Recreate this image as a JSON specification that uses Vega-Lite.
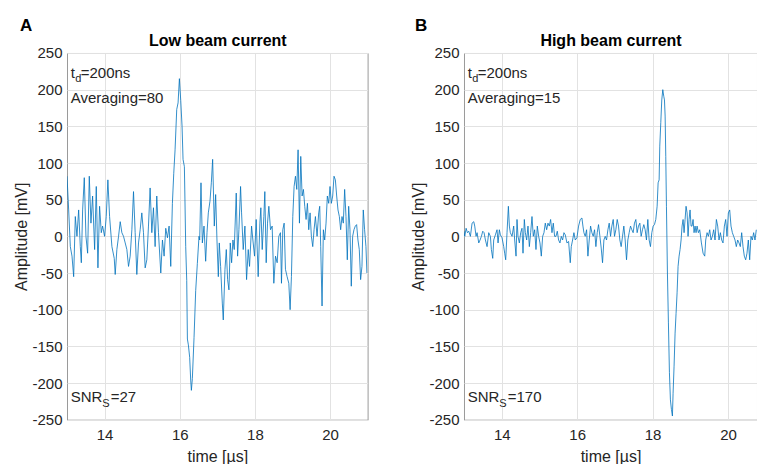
{
  "$schema": "https://vega.github.io/schema/vega-lite/v6.json",
  "padding": {"left": 13, "top": 16, "right": 0, "bottom": 0},
  "spacing": 41,
  "background": "white",
  "config": {
    "font": "Liberation Sans",
    "view": {"stroke": "#9a9a9a", "strokeWidth": 1},
    "axis": {
      "labelFont": "Liberation Sans",
      "labelFontSize": 15,
      "labelColor": "#262626",
      "titleFont": "Liberation Sans",
      "titleFontSize": 16,
      "titleFontWeight": "normal",
      "titleColor": "#262626",
      "gridColor": "#e2e2e2",
      "gridWidth": 1,
      "tickSize": 0,
      "domain": false
    },
    "title": {"fontSize": 17, "fontWeight": "bold", "anchor": "start", "frame": "bounds", "color": "#000000", "font": "Liberation Sans"}
  },
  "datasets": {
    "a": [
      {"t":13.000,"v":82},{"t":13.044,"v":36},{"t":13.088,"v":-14},{"t":13.133,"v":-27},{"t":13.177,"v":-55},{"t":13.221,"v":27},{"t":13.265,"v":0},{"t":13.310,"v":36},{"t":13.354,"v":-14},{"t":13.381,"v":-36},{"t":13.416,"v":36},{"t":13.460,"v":80},{"t":13.504,"v":0},{"t":13.549,"v":-23},{"t":13.593,"v":82},{"t":13.637,"v":18},{"t":13.681,"v":55},{"t":13.735,"v":-18},{"t":13.779,"v":68},{"t":13.823,"v":-43},{"t":13.867,"v":41},{"t":13.912,"v":5},{"t":13.947,"v":14},{"t":14.000,"v":0},{"t":14.044,"v":27},{"t":14.088,"v":77},{"t":14.133,"v":27},{"t":14.195,"v":-14},{"t":14.257,"v":-30},{"t":14.283,"v":-52},{"t":14.327,"v":-18},{"t":14.372,"v":0},{"t":14.416,"v":20},{"t":14.460,"v":5},{"t":14.504,"v":0},{"t":14.549,"v":-9},{"t":14.593,"v":-18},{"t":14.637,"v":-41},{"t":14.681,"v":-27},{"t":14.726,"v":9},{"t":14.770,"v":61},{"t":14.814,"v":5},{"t":14.858,"v":-52},{"t":14.903,"v":-9},{"t":14.947,"v":9},{"t":14.991,"v":32},{"t":15.035,"v":5},{"t":15.080,"v":-43},{"t":15.124,"v":-32},{"t":15.168,"v":14},{"t":15.212,"v":66},{"t":15.257,"v":5},{"t":15.301,"v":39},{"t":15.345,"v":-14},{"t":15.389,"v":55},{"t":15.434,"v":5},{"t":15.496,"v":-50},{"t":15.540,"v":-5},{"t":15.584,"v":-27},{"t":15.628,"v":11},{"t":15.673,"v":-2},{"t":15.717,"v":14},{"t":15.761,"v":-41},{"t":15.805,"v":45},{"t":15.841,"v":86},{"t":15.876,"v":118},{"t":15.920,"v":173},{"t":15.956,"v":182},{"t":15.991,"v":215},{"t":16.027,"v":185},{"t":16.062,"v":150},{"t":16.088,"v":105},{"t":16.124,"v":95},{"t":16.142,"v":40},{"t":16.159,"v":-14},{"t":16.186,"v":-60},{"t":16.204,"v":-140},{"t":16.230,"v":-148},{"t":16.265,"v":-165},{"t":16.292,"v":-196},{"t":16.310,"v":-210},{"t":16.336,"v":-194},{"t":16.381,"v":-138},{"t":16.425,"v":-74},{"t":16.469,"v":-37},{"t":16.513,"v":0},{"t":16.531,"v":-5},{"t":16.566,"v":73},{"t":16.602,"v":-9},{"t":16.646,"v":14},{"t":16.690,"v":-34},{"t":16.726,"v":5},{"t":16.761,"v":32},{"t":16.805,"v":48},{"t":16.841,"v":73},{"t":16.876,"v":105},{"t":16.920,"v":14},{"t":16.956,"v":57},{"t":16.991,"v":-5},{"t":17.027,"v":-55},{"t":17.053,"v":-9},{"t":17.088,"v":-41},{"t":17.133,"v":-91},{"t":17.159,"v":-114},{"t":17.204,"v":-45},{"t":17.239,"v":-18},{"t":17.274,"v":-59},{"t":17.310,"v":-73},{"t":17.345,"v":-9},{"t":17.381,"v":-36},{"t":17.416,"v":-5},{"t":17.451,"v":-18},{"t":17.504,"v":59},{"t":17.540,"v":-27},{"t":17.575,"v":9},{"t":17.619,"v":68},{"t":17.646,"v":32},{"t":17.690,"v":-18},{"t":17.735,"v":14},{"t":17.779,"v":-59},{"t":17.823,"v":-18},{"t":17.858,"v":-41},{"t":17.912,"v":14},{"t":17.947,"v":-5},{"t":17.991,"v":-27},{"t":18.035,"v":23},{"t":18.088,"v":-55},{"t":18.133,"v":18},{"t":18.159,"v":39},{"t":18.195,"v":-18},{"t":18.239,"v":27},{"t":18.265,"v":61},{"t":18.301,"v":-36},{"t":18.336,"v":18},{"t":18.372,"v":41},{"t":18.416,"v":9},{"t":18.460,"v":14},{"t":18.504,"v":-64},{"t":18.549,"v":-27},{"t":18.593,"v":-36},{"t":18.637,"v":0},{"t":18.681,"v":5},{"t":18.708,"v":-64},{"t":18.743,"v":9},{"t":18.779,"v":18},{"t":18.814,"v":-45},{"t":18.858,"v":-55},{"t":18.903,"v":-64},{"t":18.938,"v":-100},{"t":18.973,"v":-55},{"t":19.009,"v":27},{"t":19.044,"v":68},{"t":19.080,"v":82},{"t":19.115,"v":64},{"t":19.150,"v":118},{"t":19.186,"v":18},{"t":19.221,"v":109},{"t":19.257,"v":55},{"t":19.292,"v":64},{"t":19.327,"v":41},{"t":19.363,"v":23},{"t":19.398,"v":45},{"t":19.434,"v":9},{"t":19.469,"v":32},{"t":19.504,"v":0},{"t":19.540,"v":-14},{"t":19.575,"v":9},{"t":19.611,"v":27},{"t":19.655,"v":0},{"t":19.699,"v":32},{"t":19.726,"v":41},{"t":19.752,"v":-14},{"t":19.788,"v":-95},{"t":19.823,"v":9},{"t":19.858,"v":-5},{"t":19.894,"v":18},{"t":19.929,"v":55},{"t":19.965,"v":45},{"t":20.000,"v":68},{"t":20.035,"v":45},{"t":20.071,"v":55},{"t":20.106,"v":82},{"t":20.142,"v":77},{"t":20.177,"v":55},{"t":20.212,"v":36},{"t":20.248,"v":27},{"t":20.283,"v":9},{"t":20.319,"v":27},{"t":20.354,"v":18},{"t":20.389,"v":64},{"t":20.425,"v":27},{"t":20.460,"v":-32},{"t":20.496,"v":41},{"t":20.531,"v":9},{"t":20.566,"v":-68},{"t":20.602,"v":0},{"t":20.637,"v":9},{"t":20.673,"v":14},{"t":20.708,"v":16},{"t":20.743,"v":-5},{"t":20.779,"v":-18},{"t":20.814,"v":-59},{"t":20.850,"v":-41},{"t":20.885,"v":36},{"t":20.920,"v":9},{"t":20.956,"v":-14},{"t":20.982,"v":-50}
    ],
    "b": [
      {"t":13.000,"v":7},{"t":13.020,"v":0},{"t":13.056,"v":11},{"t":13.091,"v":5},{"t":13.126,"v":7},{"t":13.170,"v":0},{"t":13.214,"v":18},{"t":13.259,"v":20},{"t":13.285,"v":14},{"t":13.320,"v":0},{"t":13.347,"v":5},{"t":13.391,"v":-9},{"t":13.426,"v":-5},{"t":13.462,"v":0},{"t":13.497,"v":7},{"t":13.532,"v":5},{"t":13.568,"v":-5},{"t":13.612,"v":-14},{"t":13.656,"v":5},{"t":13.700,"v":0},{"t":13.726,"v":-18},{"t":13.762,"v":-30},{"t":13.788,"v":-5},{"t":13.832,"v":2},{"t":13.876,"v":9},{"t":13.903,"v":-9},{"t":13.938,"v":9},{"t":13.965,"v":2},{"t":14.009,"v":-2},{"t":14.053,"v":-14},{"t":14.079,"v":-23},{"t":14.106,"v":-32},{"t":14.141,"v":5},{"t":14.177,"v":41},{"t":14.203,"v":14},{"t":14.229,"v":5},{"t":14.274,"v":0},{"t":14.318,"v":14},{"t":14.344,"v":-5},{"t":14.380,"v":-27},{"t":14.406,"v":23},{"t":14.432,"v":0},{"t":14.468,"v":-9},{"t":14.503,"v":5},{"t":14.538,"v":11},{"t":14.565,"v":-23},{"t":14.600,"v":23},{"t":14.627,"v":5},{"t":14.662,"v":-5},{"t":14.697,"v":14},{"t":14.733,"v":-14},{"t":14.768,"v":5},{"t":14.803,"v":27},{"t":14.838,"v":0},{"t":14.874,"v":9},{"t":14.909,"v":-18},{"t":14.944,"v":14},{"t":14.980,"v":0},{"t":15.015,"v":-9},{"t":15.050,"v":-27},{"t":15.086,"v":0},{"t":15.121,"v":5},{"t":15.156,"v":18},{"t":15.192,"v":9},{"t":15.227,"v":18},{"t":15.262,"v":14},{"t":15.297,"v":23},{"t":15.333,"v":5},{"t":15.368,"v":18},{"t":15.403,"v":0},{"t":15.439,"v":0},{"t":15.474,"v":7},{"t":15.509,"v":-5},{"t":15.545,"v":-9},{"t":15.580,"v":0},{"t":15.615,"v":-5},{"t":15.650,"v":5},{"t":15.686,"v":2},{"t":15.730,"v":-9},{"t":15.774,"v":-7},{"t":15.818,"v":-36},{"t":15.845,"v":-14},{"t":15.880,"v":-5},{"t":15.915,"v":5},{"t":15.951,"v":-5},{"t":15.995,"v":-2},{"t":16.039,"v":14},{"t":16.083,"v":23},{"t":16.127,"v":25},{"t":16.154,"v":14},{"t":16.180,"v":5},{"t":16.215,"v":0},{"t":16.251,"v":9},{"t":16.286,"v":-27},{"t":16.321,"v":-5},{"t":16.357,"v":14},{"t":16.392,"v":5},{"t":16.427,"v":0},{"t":16.462,"v":9},{"t":16.498,"v":-14},{"t":16.533,"v":5},{"t":16.568,"v":16},{"t":16.604,"v":0},{"t":16.639,"v":-16},{"t":16.674,"v":-36},{"t":16.710,"v":-5},{"t":16.745,"v":0},{"t":16.780,"v":-5},{"t":16.816,"v":9},{"t":16.851,"v":18},{"t":16.886,"v":0},{"t":16.921,"v":14},{"t":16.957,"v":23},{"t":16.992,"v":0},{"t":17.027,"v":9},{"t":17.063,"v":23},{"t":17.098,"v":14},{"t":17.133,"v":-5},{"t":17.168,"v":-14},{"t":17.204,"v":0},{"t":17.239,"v":14},{"t":17.274,"v":-5},{"t":17.310,"v":-32},{"t":17.345,"v":-5},{"t":17.380,"v":5},{"t":17.416,"v":14},{"t":17.451,"v":9},{"t":17.486,"v":5},{"t":17.521,"v":18},{"t":17.557,"v":23},{"t":17.592,"v":5},{"t":17.627,"v":14},{"t":17.663,"v":18},{"t":17.698,"v":0},{"t":17.733,"v":9},{"t":17.769,"v":16},{"t":17.804,"v":9},{"t":17.839,"v":-5},{"t":17.875,"v":23},{"t":17.910,"v":-5},{"t":17.945,"v":-14},{"t":17.981,"v":5},{"t":18.016,"v":14},{"t":18.051,"v":16},{"t":18.086,"v":23},{"t":18.122,"v":41},{"t":18.148,"v":73},{"t":18.175,"v":77},{"t":18.192,"v":123},{"t":18.219,"v":155},{"t":18.245,"v":186},{"t":18.272,"v":200},{"t":18.298,"v":191},{"t":18.316,"v":186},{"t":18.334,"v":164},{"t":18.351,"v":109},{"t":18.369,"v":41},{"t":18.395,"v":-50},{"t":18.421,"v":-118},{"t":18.448,"v":-186},{"t":18.474,"v":-223},{"t":18.501,"v":-236},{"t":18.527,"v":-245},{"t":18.545,"v":-214},{"t":18.571,"v":-177},{"t":18.598,"v":-132},{"t":18.624,"v":-105},{"t":18.651,"v":-77},{"t":18.677,"v":-41},{"t":18.704,"v":-27},{"t":18.730,"v":-18},{"t":18.757,"v":-5},{"t":18.783,"v":14},{"t":18.810,"v":23},{"t":18.836,"v":5},{"t":18.863,"v":23},{"t":18.889,"v":41},{"t":18.916,"v":32},{"t":18.942,"v":0},{"t":18.969,"v":23},{"t":18.995,"v":36},{"t":19.022,"v":14},{"t":19.048,"v":14},{"t":19.075,"v":23},{"t":19.101,"v":5},{"t":19.128,"v":14},{"t":19.154,"v":5},{"t":19.181,"v":14},{"t":19.216,"v":5},{"t":19.251,"v":9},{"t":19.296,"v":-9},{"t":19.340,"v":-23},{"t":19.384,"v":-27},{"t":19.410,"v":-5},{"t":19.446,"v":5},{"t":19.481,"v":0},{"t":19.516,"v":9},{"t":19.551,"v":-5},{"t":19.587,"v":0},{"t":19.622,"v":9},{"t":19.657,"v":-5},{"t":19.693,"v":23},{"t":19.728,"v":14},{"t":19.763,"v":-5},{"t":19.799,"v":5},{"t":19.834,"v":-5},{"t":19.869,"v":-9},{"t":19.905,"v":14},{"t":19.940,"v":23},{"t":19.975,"v":0},{"t":20.011,"v":32},{"t":20.046,"v":36},{"t":20.081,"v":14},{"t":20.117,"v":5},{"t":20.152,"v":0},{"t":20.187,"v":-5},{"t":20.222,"v":-14},{"t":20.258,"v":-5},{"t":20.293,"v":-9},{"t":20.328,"v":-14},{"t":20.364,"v":5},{"t":20.399,"v":-14},{"t":20.434,"v":-27},{"t":20.470,"v":-32},{"t":20.505,"v":-23},{"t":20.540,"v":-5},{"t":20.576,"v":-32},{"t":20.611,"v":0},{"t":20.646,"v":-5},{"t":20.681,"v":5},{"t":20.717,"v":-5},{"t":20.752,"v":9}
    ]
  },
  "hconcat": [
    {
      "title": {"text": "A", "dx": 6, "offset": -2},
      "width": 300.6,
      "height": 366.7,
      "resolve": {"axis": {"x": "independent", "y": "independent"}},
      "layer": [
        {
          "data": {"name": "a"},
          "mark": {"type": "line", "color": "#0072BD", "strokeWidth": 0.8, "clip": true},
          "encoding": {
            "x": {"field": "t", "type": "quantitative", "scale": {"domain": [13, 21], "nice": false, "zero": false},
                  "axis": {"title": "time [µs]", "values": [14, 16, 18, 20], "grid": true, "labelPadding": 8, "titlePadding": 6}},
            "y": {"field": "v", "type": "quantitative", "scale": {"domain": [-250, 250], "nice": false},
                  "axis": {"title": "Amplitude [mV]", "values": [-250, -200, -150, -100, -50, 0, 50, 100, 150, 200, 250], "labelExpr": "replace(datum.label, '\u2212', '-')", "grid": true, "labelPadding": 5, "titlePadding": 2}}
          }
        },
        {
          "data": {"values": [{"t": 13.1, "v": 216, "s": "t"}, {"t": 13.1, "v": 182, "s": "Averaging=80"}, {"t": 13.1, "v": -226, "s": "SNR"}]},
          "mark": {"type": "text", "align": "left", "baseline": "alphabetic", "fontSize": 15, "color": "#262626"},
          "encoding": {
            "x": {"field": "t", "type": "quantitative", "axis": {"orient": "top", "labels": false, "ticks": false, "grid": false, "domain": false, "title": "Low beam current", "titleFontWeight": "bold", "titleFontSize": 16, "titleColor": "#000000", "titlePadding": 4}},
            "y": {"field": "v", "type": "quantitative", "axis": null},
            "text": {"field": "s"}
          }
        },
        {
          "data": {"values": [{"t": 13.1, "v": 216, "s": "d"}]},
          "mark": {"type": "text", "align": "left", "baseline": "alphabetic", "fontSize": 11, "dx": 4.5, "dy": 4, "color": "#262626"},
          "encoding": {"x": {"field": "t", "type": "quantitative", "axis": null}, "y": {"field": "v", "type": "quantitative", "axis": null}, "text": {"field": "s"}}
        },
        {
          "data": {"values": [{"t": 13.1, "v": 216, "s": "=200ns"}]},
          "mark": {"type": "text", "align": "left", "baseline": "alphabetic", "fontSize": 15, "dx": 10, "color": "#262626"},
          "encoding": {"x": {"field": "t", "type": "quantitative", "axis": null}, "y": {"field": "v", "type": "quantitative", "axis": null}, "text": {"field": "s"}}
        },
        {
          "data": {"values": [{"t": 13.1, "v": -226, "s": "S"}]},
          "mark": {"type": "text", "align": "left", "baseline": "alphabetic", "fontSize": 11, "dx": 31.5, "dy": 5, "color": "#262626"},
          "encoding": {"x": {"field": "t", "type": "quantitative", "axis": null}, "y": {"field": "v", "type": "quantitative", "axis": null}, "text": {"field": "s"}}
        },
        {
          "data": {"values": [{"t": 13.1, "v": -226, "s": "=27"}]},
          "mark": {"type": "text", "align": "left", "baseline": "alphabetic", "fontSize": 15, "dx": 40, "color": "#262626"},
          "encoding": {"x": {"field": "t", "type": "quantitative", "axis": null}, "y": {"field": "v", "type": "quantitative", "axis": null}, "text": {"field": "s"}}
        }
      ]
    },
    {
      "title": {"text": "B", "dx": 4, "offset": -2},
      "width": 293,
      "height": 366.7,
      "resolve": {"axis": {"x": "independent", "y": "independent"}},
      "layer": [
        {
          "data": {"name": "b"},
          "mark": {"type": "line", "color": "#0072BD", "strokeWidth": 0.8, "clip": true},
          "encoding": {
            "x": {"field": "t", "type": "quantitative", "scale": {"domain": [13, 20.77], "nice": false, "zero": false},
                  "axis": {"title": "time [µs]", "values": [14, 16, 18, 20], "grid": true, "labelPadding": 8, "titlePadding": 6}},
            "y": {"field": "v", "type": "quantitative", "scale": {"domain": [-250, 250], "nice": false},
                  "axis": {"title": "Amplitude [mV]", "values": [-250, -200, -150, -100, -50, 0, 50, 100, 150, 200, 250], "labelExpr": "replace(datum.label, '\u2212', '-')", "grid": true, "labelPadding": 5, "titlePadding": 2}}
          }
        },
        {
          "data": {"values": [{"t": 13.1, "v": 216, "s": "t"}, {"t": 13.1, "v": 182, "s": "Averaging=15"}, {"t": 13.1, "v": -226, "s": "SNR"}]},
          "mark": {"type": "text", "align": "left", "baseline": "alphabetic", "fontSize": 15, "color": "#262626"},
          "encoding": {
            "x": {"field": "t", "type": "quantitative", "axis": {"orient": "top", "labels": false, "ticks": false, "grid": false, "domain": false, "title": "High beam current", "titleFontWeight": "bold", "titleFontSize": 16, "titleColor": "#000000", "titlePadding": 4}},
            "y": {"field": "v", "type": "quantitative", "axis": null},
            "text": {"field": "s"}
          }
        },
        {
          "data": {"values": [{"t": 13.1, "v": 216, "s": "d"}]},
          "mark": {"type": "text", "align": "left", "baseline": "alphabetic", "fontSize": 11, "dx": 4.5, "dy": 4, "color": "#262626"},
          "encoding": {"x": {"field": "t", "type": "quantitative", "axis": null}, "y": {"field": "v", "type": "quantitative", "axis": null}, "text": {"field": "s"}}
        },
        {
          "data": {"values": [{"t": 13.1, "v": 216, "s": "=200ns"}]},
          "mark": {"type": "text", "align": "left", "baseline": "alphabetic", "fontSize": 15, "dx": 10, "color": "#262626"},
          "encoding": {"x": {"field": "t", "type": "quantitative", "axis": null}, "y": {"field": "v", "type": "quantitative", "axis": null}, "text": {"field": "s"}}
        },
        {
          "data": {"values": [{"t": 13.1, "v": -226, "s": "S"}]},
          "mark": {"type": "text", "align": "left", "baseline": "alphabetic", "fontSize": 11, "dx": 31.5, "dy": 5, "color": "#262626"},
          "encoding": {"x": {"field": "t", "type": "quantitative", "axis": null}, "y": {"field": "v", "type": "quantitative", "axis": null}, "text": {"field": "s"}}
        },
        {
          "data": {"values": [{"t": 13.1, "v": -226, "s": "=170"}]},
          "mark": {"type": "text", "align": "left", "baseline": "alphabetic", "fontSize": 15, "dx": 40, "color": "#262626"},
          "encoding": {"x": {"field": "t", "type": "quantitative", "axis": null}, "y": {"field": "v", "type": "quantitative", "axis": null}, "text": {"field": "s"}}
        }
      ]
    }
  ]
}
